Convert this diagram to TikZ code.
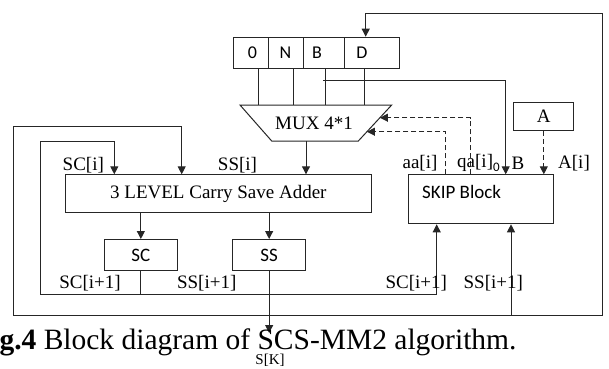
\documentclass[tikz,border=0pt]{standalone}
\usepackage{fontspec}
\setmainfont{Liberation Serif}
\newfontfamily\carlito{Carlito}
\usetikzlibrary{arrows.meta,calc}
\begin{document}
\begin{tikzpicture}[x=1pt,y=-1pt, line width=1pt, draw=black!85,
  arr/.style={-{Triangle[length=8pt,width=8pt]}},
  box/.style={draw, inner sep=0pt, anchor=north west},
  lbl/.style={font=\fontsize{19}{19}\selectfont, inner sep=0pt},
  sans/.style={font=\carlito\fontsize{19}{19}\selectfont, inner sep=0pt},
  dsh/.style={dash pattern=on 5pt off 3pt}]
\useasboundingbox (0,0) rectangle (609,368);

% register
\node[box, minimum width=35.6pt, minimum height=31pt] (c0) at (232.7,36.7) {};
\node[box, minimum width=35pt,   minimum height=31pt] (cN) at (268.3,36.7) {};
\node[box, minimum width=40.7pt, minimum height=31pt] (cB) at (303.3,36.7) {};
\node[box, minimum width=55pt,   minimum height=31pt] (cD) at (344,36.7) {};
\node[sans, font=\carlito\fontsize{18}{18}\selectfont] (l0) at (252.5,52.5) {0};
\node[sans, font=\carlito\fontsize{18}{18}\selectfont] (lN) at (285.5,52.5) {N};
\node[sans, font=\carlito\fontsize{18}{18}\selectfont] (lB) at (317,52.5) {B};
\node[sans, font=\carlito\fontsize{18}{18}\selectfont] (lD) at (362,52.5) {D};

% MUX
\coordinate (mtl) at (240,105);
\coordinate (mtr) at (391.7,105);
\coordinate (mbr) at (358.3,141);
\coordinate (mbl) at (271.7,141);
\draw (mtl) -- (mtr) -- (mbr) -- (mbl) -- cycle;
\node[lbl] (mux) at (314,123) {MUX 4*1};

% blocks
\node[box, minimum width=305.7pt, minimum height=38pt] (csa) at (65,174.3) {};
\node[lbl] (csal) at (csa.center) {3 LEVEL Carry Save Adder};
\node[box, minimum width=72.7pt, minimum height=31pt, sans] (scb) at (104,239) {SC};
\node[box, minimum width=72.7pt, minimum height=31pt, sans] (ssb) at (232.3,239) {SS};
\node[box, minimum width=145pt, minimum height=49pt] (skip) at (408.3,174.3) {};
\node[sans, anchor=west] (skipl) at (421.7,191.7) {SKIP Block};
\node[box, minimum width=60pt, minimum height=28.3pt, lbl] (abox) at (513.3,101.7) {A};

% register to MUX
\draw ([xshift=7.2pt]c0.south) -- ([xshift=7.2pt]c0.south |- mtl);
\draw ([xshift=6.9pt]cN.south) -- ([xshift=6.9pt]cN.south |- mtl);
\draw ([xshift=1.35pt]cB.south) -- ([xshift=1.35pt]cB.south |- mtl);
\draw ([xshift=-7.5pt]cD.south) -- ([xshift=-7.5pt]cD.south |- mtl);

% B to SKIP
\coordinate (bj) at (323,80.7);
\coordinate (bsk) at (505.7,80.7);
\draw[arr] (bj) -- (bsk) -- (bsk |- skip.north);

% MUX to CSA
\coordinate (mo) at (306,141);
\draw[arr] (mo) -- (mo |- csa.north);

% CSA to SC / SS
\draw[arr] (scb.north |- csa.south) -- (scb.north);
\draw[arr] (ssb.north |- csa.south) -- (ssb.north);

% inner loop (SC)
\coordinate (il) at (40,294.5);
\coordinate (scin) at (114.3,141.7);
\coordinate (scsk) at (436.7,294.5);
\draw (scb.south) -- (scb.south |- il);
\draw[arr] (il) |- (scin) -- (scin |- csa.north);
\draw[arr] (il) -- (scsk) -- (scsk |- skip.south);

% outer loop (SS)
\coordinate (ol) at (13.3,315);
\coordinate (or) at (602,315);
\coordinate (ssin) at (181.7,126.7);
\coordinate (dt) at (365.7,13);
\coordinate (sssk) at (511,315);
\coordinate (sk) at (269,333);
\draw[arr] (ol) |- (ssin) -- (ssin |- csa.north);
\draw[arr] (ol) -- (or) |- (dt) -- (dt |- cD.north);
\draw[arr] (sssk) -- (sssk |- skip.south);
\draw[arr] (ssb.south) -- (ssb.south |- sk);

% dashed controls
\coordinate (qa) at (470.7,117.7);
\coordinate (aa) at (445.7,131.7);
\draw[dsh,arr] (qa |- skip.north) |- ($(mtr)!0.353!(mbr)$);
\draw[dsh,arr] (aa |- skip.north) |- ($(mtr)!0.742!(mbr)$);
\draw[dsh,arr] (abox.south) -- (abox.south |- skip.north);

% labels
\node[lbl] (tsci) at (83.3,165) {SC[i]};
\node[lbl] (tssi) at (237.5,165) {SS[i]};
\node[lbl] (taa) at (420,163) {aa[i]};
\node[lbl, anchor=west] (tqa) at (456.7,163) {qa[i]\raisebox{-4pt}{\carlito\fontsize{13}{13}\selectfont 0}};
\node[lbl] (tb) at (518,163) {B};
\node[lbl] (tai) at (574,163) {A[i]};
\node[lbl] (tsc1) at (90,283) {SC[i+1]};
\node[lbl] (tss1) at (206.7,283) {SS[i+1]};
\node[lbl] (tsc2) at (416.3,283) {SC[i+1]};
\node[lbl] (tss2) at (493.3,283) {SS[i+1]};

% caption
\node[anchor=base west, inner sep=0pt, font=\fontsize{29.5}{30}\selectfont] (cap) at (-1,349) {\textbf{g.4} Block diagram of SCS-MM2 algorithm.};
\node[inner sep=0pt, font=\fontsize{15}{15}\selectfont] (skl) at (270,360) {S[K]};
\end{tikzpicture}
\end{document}
